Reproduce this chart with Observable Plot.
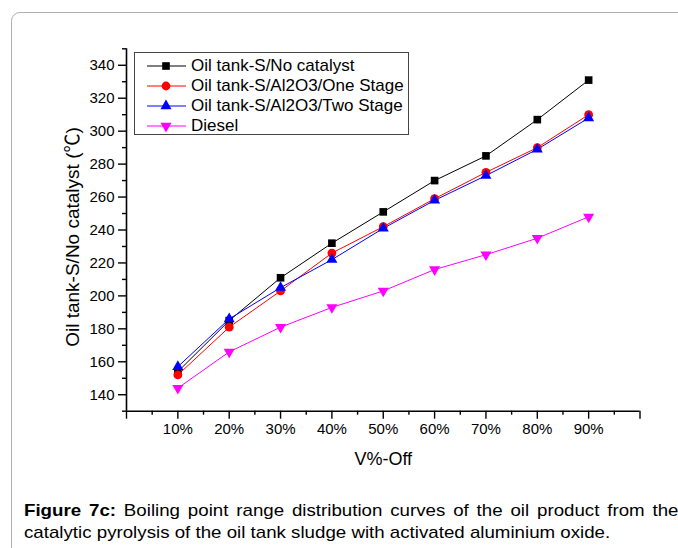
<!DOCTYPE html>
<html><head><meta charset="utf-8">
<script src="https://cdn.jsdelivr.net/npm/d3@7"></script>
<script src="https://cdn.jsdelivr.net/npm/@observablehq/plot@0.6"></script>
<style>
body{margin:0;background:#fff;font-family:"Liberation Sans",Arial,sans-serif;}
#wrap{position:relative;width:678px;height:548px;overflow:hidden;background:#fff;}
#frame{position:absolute;left:11px;top:12px;width:720px;height:600px;border:1px solid #b0b0b0;border-radius:9px;}
#chart{position:absolute;left:0;top:0;}
#legend{position:absolute;left:134px;top:52px;width:273px;height:81px;border:1px solid #444;background:#fff;}
.row{position:absolute;left:0;height:20px;width:272px;}
.row svg{position:absolute;left:0;top:0;}
.row span{position:absolute;left:56px;top:0;line-height:20px;font-size:17px;color:#000;white-space:nowrap;}
.cap{position:absolute;left:24px;font-size:17px;line-height:22px;color:#000;white-space:nowrap;transform:scaleX(1.1);transform-origin:0 0;}
#cap1{top:500px;width:595px;text-align:justify;text-align-last:justify;}
#cap2{top:522px;}
</style>
</head><body>
<div id="wrap">
  <div id="frame"></div>
  <div id="chart"></div>
  <div id="legend"></div>
  <div class="cap" id="cap1"><b>Figure 7c:</b> Boiling point range distribution curves of the oil product from the</div>
  <div class="cap" id="cap2">catalytic pyrolysis of the oil tank sludge with activated aluminium oxide.</div>
</div>
<script>
// ---- data ----
const pct = [10, 20, 30, 40, 50, 60, 70, 80, 90];
const noCatalyst = [154, 185, 211, 232, 251, 270, 285, 307, 331];
const oneStage   = [152, 181, 203, 226, 242, 259, 275, 290, 310];
const twoStage   = [157, 186, 205, 222, 241, 258, 273, 289, 308];
const diesel     = [144, 166, 181, 193, 203, 216, 225, 235, 248];
const seriesNames = ["Oil tank-S/No catalyst", "Oil tank-S/Al2O3/One Stage", "Oil tank-S/Al2O3/Two Stage", "Diesel"];
const seriesValues = [noCatalyst, oneStage, twoStage, diesel];
const seriesColors = ["#000000", "#ff0000", "#0000ff", "#ff00ff"];
const seriesSymbols = ["square", "circle", "triangle", "triangle"];
const seriesRotate = [0, 0, 0, 180];
const seriesR = [4.3, 4.4, 4.1, 4.1];
const xMajor = [0, 10, 20, 30, 40, 50, 60, 70, 80, 90, 100];
const xMinor = [5, 15, 25, 35, 45, 55, 65, 75, 85, 95];
const yMajor = [140, 160, 180, 200, 220, 240, 260, 280, 300, 320, 340];
const yMinor = [130, 150, 170, 190, 210, 230, 250, 270, 290, 310, 330, 350];
const xTitle = "V%-Off";
const yTitle = "Oil tank-S/No catalyst (\u2103)";

const rows = seriesNames.flatMap((name, i) =>
  pct.map((p, j) => ({series: name, idx: i, x: p, y: seriesValues[i][j]})));

const marks = [];
marks.push(Plot.axisX({ticks: xMajor, tickSize: 8, tickPadding: 4, strokeWidth: 1.4,
  tickFormat: d => (d > 0 && d < 100) ? d + "%" : "", label: null, fontSize: 15}));
marks.push(Plot.axisX({ticks: xMinor, tickSize: 4, strokeWidth: 1.4, tickFormat: () => "", label: null}));
marks.push(Plot.axisY({ticks: yMajor, tickSize: 8, tickPadding: 4, strokeWidth: 1.4,
  tickFormat: d => String(d), label: null, fontSize: 15}));
marks.push(Plot.axisY({ticks: yMinor, tickSize: 4, strokeWidth: 1.4, tickFormat: () => "", label: null}));
marks.push(Plot.ruleX([0], {stroke: "#000", strokeWidth: 1.6}));
marks.push(Plot.ruleY([130], {stroke: "#000", strokeWidth: 1.6}));
marks.push(Plot.text([xTitle], {text: d => d, frameAnchor: "bottom", dy: 48, fontSize: 18, lineAnchor: "middle"}));
marks.push(Plot.text([yTitle], {text: d => d, frameAnchor: "left", textAnchor: "middle", rotate: -90, dx: -54, dy: 7, fontSize: 19,
  lineAnchor: "middle", fontFamily: "'Liberation Sans', 'Noto Sans CJK SC', sans-serif"}));
seriesNames.forEach((name, i) => {
  const data = rows.filter(d => d.idx === i);
  marks.push(Plot.line(data, {x: "x", y: "y", stroke: seriesColors[i], strokeWidth: 1}));
});
seriesNames.forEach((name, i) => {
  const data = rows.filter(d => d.idx === i);
  marks.push(Plot.dot(data, {x: "x", y: "y", symbol: () => seriesSymbols[i], fill: seriesColors[i],
    stroke: "none", r: seriesR[i], rotate: seriesRotate[i]}));
});

const chart = Plot.plot({
  width: 678, height: 480,
  marginLeft: 126, marginRight: 38.5, marginTop: 48.3, marginBottom: 69.3,
  x: {domain: [0, 100]},
  y: {domain: [130, 350]},
  symbol: {type: "identity"},
  style: {fontFamily: "'Liberation Sans', Arial, sans-serif", fontSize: "15px", color: "#000", background: "transparent", overflow: "visible"},
  marks
});
document.getElementById("chart").appendChild(chart);

// ---- legend ----
const leg = document.getElementById("legend");
seriesNames.forEach((name, i) => {
  const row = document.createElement("div");
  row.className = "row";
  row.style.top = (2.7 + 20 * i) + "px";
  const sym = {square: d3.symbolSquare, circle: d3.symbolCircle, triangle: d3.symbolTriangle}[seriesSymbols[i]];
  const path = d3.symbol(sym, Math.PI * seriesR[i] * seriesR[i])();
  row.innerHTML = `<svg width="60" height="20"><line x1="12" x2="51" y1="10" y2="10" stroke="${seriesColors[i]}" stroke-width="1"/>` +
    `<path d="${path}" fill="${seriesColors[i]}" transform="translate(31,10) rotate(${seriesRotate[i]})"/></svg><span>${name}</span>`;
  leg.appendChild(row);
});
</script>
</body></html>
